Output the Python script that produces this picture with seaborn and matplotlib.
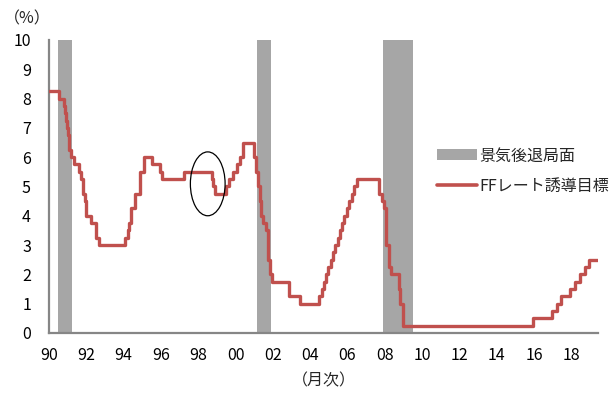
import pandas as pd
import seaborn as sns
import matplotlib.pyplot as plt
import matplotlib.dates as mdates
from matplotlib.patches import Ellipse, Patch
from matplotlib.lines import Line2D

# FF rate target: dates of each change and the level set (%)
change_dates = [
    '1990-01-01', '1990-07-13', '1990-10-29', '1990-11-14', '1990-12-07', '1990-12-18',
    '1991-01-09', '1991-02-01', '1991-03-08', '1991-04-30', '1991-08-06', '1991-09-13',
    '1991-10-31', '1991-11-06', '1991-12-06', '1991-12-20',
    '1992-04-09', '1992-07-02', '1992-09-04',
    '1994-02-04', '1994-03-22', '1994-04-18', '1994-05-17', '1994-08-16', '1994-11-15',
    '1995-02-01', '1995-07-06', '1995-12-19', '1996-01-31', '1997-03-25',
    '1998-09-29', '1998-10-15', '1998-11-17',
    '1999-06-30', '1999-08-24', '1999-11-16',
    '2000-02-02', '2000-03-21', '2000-05-16',
    '2001-01-03', '2001-01-31', '2001-03-20', '2001-04-18', '2001-05-15', '2001-06-27',
    '2001-08-21', '2001-09-17', '2001-10-02', '2001-11-06', '2001-12-11',
    '2002-11-06', '2003-06-25',
    '2004-06-30', '2004-08-10', '2004-09-21', '2004-11-10', '2004-12-14',
    '2005-02-02', '2005-03-22', '2005-05-03', '2005-06-30', '2005-08-09', '2005-09-20',
    '2005-11-01', '2005-12-13',
    '2006-01-31', '2006-03-28', '2006-05-10', '2006-06-29',
    '2007-09-18', '2007-10-31', '2007-12-11',
    '2008-01-22', '2008-01-30', '2008-03-18', '2008-04-30', '2008-10-08', '2008-10-29',
    '2008-12-16',
    '2015-12-16', '2016-12-14', '2017-03-15', '2017-06-14', '2017-12-13',
    '2018-03-21', '2018-06-13', '2018-09-26', '2018-12-19', '2019-05-31',
]
target_rates = [
    8.25, 8.0, 7.75, 7.5, 7.25, 7.0,
    6.75, 6.25, 6.0, 5.75, 5.5, 5.25,
    5.0, 4.75, 4.5, 4.0,
    3.75, 3.25, 3.0,
    3.25, 3.5, 3.75, 4.25, 4.75, 5.5,
    6.0, 5.75, 5.5, 5.25, 5.5,
    5.25, 5.0, 4.75,
    5.0, 5.25, 5.5,
    5.75, 6.0, 6.5,
    6.0, 5.5, 5.0, 4.5, 4.0, 3.75,
    3.5, 3.0, 2.5, 2.0, 1.75,
    1.25, 1.0,
    1.25, 1.5, 1.75, 2.0, 2.25,
    2.5, 2.75, 3.0, 3.25, 3.5, 3.75,
    4.0, 4.25,
    4.5, 4.75, 5.0, 5.25,
    4.75, 4.5, 4.25,
    3.5, 3.0, 2.25, 2.0, 1.5, 1.0,
    0.25,
    0.5, 0.75, 1.0, 1.25, 1.5,
    1.75, 2.0, 2.25, 2.5, 2.5,
]

# recession periods (shaded)
recession_starts = ['1990-07-01', '2001-03-01', '2007-12-01']
recession_ends = ['1991-03-31', '2001-11-30', '2009-06-30']

year_ticks = list(range(1990, 2019, 2))
y_ticks = list(range(0, 11))

df = pd.DataFrame({'date': pd.to_datetime(change_dates), 'rate': target_rates})

sns.set_style('white')
plt.rcParams['font.family'] = ['Noto Sans CJK JP', 'DejaVu Sans']

red = '#C0504D'
grey = '#A6A6A6'
axis_col = '#868686'

fig = plt.figure(figsize=(6.13, 3.94), dpi=100)
ax = fig.add_axes([0.080, 0.155, 0.8955, 0.7435])

# recession shading
for s, e in zip(recession_starts, recession_ends):
    ax.axvspan(pd.Timestamp(s), pd.Timestamp(e), color=grey, lw=0, zorder=1)

sns.lineplot(data=df, x='date', y='rate', ax=ax, color=red, lw=2.4,
             drawstyle='steps-post', estimator=None, zorder=3)

# circle around 1998
ax.add_patch(Ellipse((mdates.date2num(pd.Timestamp('1998-07-05')), 5.09),
                     width=680, height=2.18, fill=False, ec='black', lw=0.9, zorder=4))

ax.set_xlim(pd.Timestamp('1990-01-01'), pd.Timestamp('2019-06-05'))
ax.set_ylim(0, 10)
ax.set_yticks(y_ticks)
ax.set_xticks([pd.Timestamp(f'{y}-01-01') for y in year_ticks])
ax.xaxis.set_major_formatter(mdates.DateFormatter('%y'))

ax.set_xlabel('（月次）', fontsize=11.5, labelpad=6)
ax.set_ylabel('')
fig.text(0.006, 0.952, '（%）', fontsize=11.5, ha='left', va='center')

for side in ['top', 'right']:
    ax.spines[side].set_visible(False)
for side in ['left', 'bottom']:
    ax.spines[side].set_color(axis_col)
    ax.spines[side].set_linewidth(1.6)

ax.tick_params(axis='both', direction='in', length=4, width=1, color=axis_col,
               labelsize=11.5, labelcolor='black')
ax.tick_params(axis='x', pad=10)
ax.tick_params(axis='y', pad=13)
ax.grid(False)

handles = [Patch(color=grey, lw=0), Line2D([0], [0], color=red, lw=2.6)]
fig.legend(handles, ['景気後退局面', 'FFレート誘導目標'], loc='upper left',
           bbox_to_anchor=(0.702, 0.642), frameon=False, fontsize=11.5,
           handlelength=2.5, handletextpad=0.15, labelspacing=0.85,
           borderaxespad=0)

fig.savefig('out.png', dpi=100)
